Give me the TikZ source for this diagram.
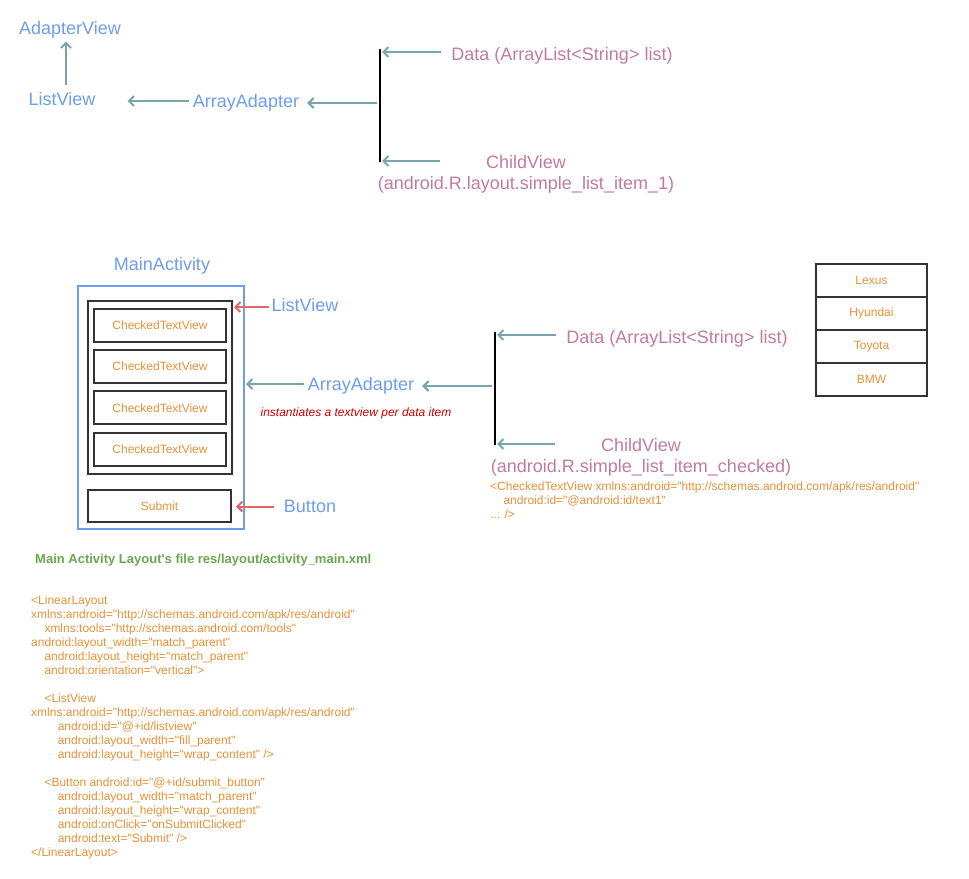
\documentclass[tikz,border=0pt]{standalone}
\usepackage{fontspec}
\setmainfont{Liberation Sans}[Ligatures=TeXOff]
\usetikzlibrary{arrows.meta, positioning}

\definecolor{lblblue}{HTML}{6D9EEB}
\definecolor{lblpink}{HTML}{C27BA0}
\definecolor{arrteal}{HTML}{76A5AF}
\definecolor{arrred}{HTML}{E06666}
\definecolor{codeorange}{HTML}{E69138}
\definecolor{titlegreen}{HTML}{6AA84F}
\definecolor{notered}{HTML}{CC0000}
\definecolor{boxgray}{HTML}{333333}

\newcommand{\codeindent}{\hspace*{13.3pt}}

\tikzset{
  biglbl/.style={inner sep=0pt, font=\fontsize{18}{21}\selectfont},
  bluelbl/.style={biglbl, text=lblblue},
  pinklbl/.style={biglbl, text=lblpink, align=center},
  smalltxt/.style={inner sep=0pt, font=\fontsize{12}{14}\selectfont, text=codeorange},
  viewbox/.style={draw=boxgray, line width=2pt, minimum width=132pt, minimum height=33pt, smalltxt},
  rowbox/.style={draw=boxgray, line width=2pt, minimum width=111pt, minimum height=33pt, smalltxt},
  tealarr/.style={draw=arrteal, line width=2pt, -{Straight Barb[length=5pt,width=10pt]}},
  redarr/.style={draw=arrred, line width=2pt, -{Straight Barb[length=5pt,width=10pt]}},
  bracketbar/.style={draw=black, line width=2pt},
}

\begin{document}
\begin{tikzpicture}[x=1pt, y=-1pt]
\useasboundingbox (0,0) rectangle (969,878);

% Top: class hierarchy and adapter inputs
\node[bluelbl] (adapterview) at (70,29.5) {AdapterView};
\node[bluelbl] (listview) at (62,99) {ListView};
\node[bluelbl] (adapter) at (246,103) {ArrayAdapter};
\node[pinklbl] (data) at (562,56) {Data (ArrayList<String> list)};
\node[pinklbl] (child) at (526,174) {ChildView\\(android.R.layout.simple\_list\_item\_1)};

\coordinate (bartop) at (380,49);
\coordinate (barbot) at (380,162);
\coordinate (barmid) at (377,103);
\coordinate (childtail) at (440,161);
\draw[bracketbar] (bartop) -- (barbot);

\draw[tealarr, shorten <=7pt, shorten >=3.5pt] ([xshift=4pt]listview.north) -- ([xshift=-4pt]adapterview.south);
\draw[tealarr, shorten <=4pt, shorten >=32pt] ([yshift=2pt]adapter.west) -- ([yshift=2pt]adapter.west -| listview.east);
\draw[tealarr, shorten >=8pt] (barmid) -- (barmid -| adapter.east);
\draw[tealarr, shorten <=10pt, shorten >=2pt] ([yshift=4pt]data.west) -- ([yshift=4pt]data.west -| bartop);
\draw[tealarr, shorten >=2pt] (childtail) -- (childtail -| bartop);

% Middle: activity layout
\node[bluelbl] (mainact) at (162,266) {MainActivity};
\node[draw=lblblue, line width=2pt, minimum width=166pt, minimum height=243pt] (activity) at (161,407.5) {};
\node[draw=boxgray, line width=2pt, minimum width=144pt, minimum height=173pt] (listbox) at (160,387.5) {};
\foreach \i in {1,...,4}
  \node[viewbox] (ctv\i) at (160,{325.5+(\i-1)*41.2}) {CheckedTextView};
\node[viewbox, minimum width=143pt, minimum height=32pt] (submit) at (159.5,506) {Submit};

\node[bluelbl] (lvlabel) at (305,305) {ListView};
\node[bluelbl] (adapter2) at (361,386) {ArrayAdapter};
\node[inner sep=0pt, font=\fontsize{12}{14}\selectfont\itshape, text=notered] (note) at (356,413) {instantiates a textview per data item};
\node[bluelbl] (btnlabel) at (310,506.5) {Button};

\draw[redarr, shorten <=2pt, shorten >=1pt] ([yshift=-2pt]lvlabel.west) -- ([yshift=-2pt]lvlabel.west -| listbox.east);
\draw[tealarr, shorten <=4pt, shorten >=1pt] ([yshift=2pt]adapter2.west) -- ([yshift=2pt]adapter2.west -| activity.east);
\draw[redarr, shorten <=10pt, shorten >=4pt] (btnlabel.west) -- (btnlabel.west -| submit.east);

% Middle right: adapter inputs
\node[pinklbl] (data2) at (677,338.5) {Data (ArrayList<String> list)};
\node[pinklbl] (child2) at (641,457) {ChildView\\(android.R.simple\_list\_item\_checked)};
\node[smalltxt, anchor=north west, align=left] (childxml) at (490,482)
  {<CheckedTextView xmlns:android="http://schemas.android.com/apk/res/android"\\
   \codeindent android:id="@android:id/text1"\\
   ... />};

\coordinate (bar2top) at (495,332);
\coordinate (bar2bot) at (495,445);
\coordinate (bar2mid) at (492,386);
\coordinate (child2tail) at (555,444);
\draw[bracketbar] (bar2top) -- (bar2bot);

\draw[tealarr, shorten >=8pt] (bar2mid) -- (bar2mid -| adapter2.east);
\draw[tealarr, shorten <=10pt, shorten >=2pt] ([yshift=3.5pt]data2.west) -- ([yshift=3.5pt]data2.west -| bar2top);
\draw[tealarr, shorten >=2pt] (child2tail) -- (child2tail -| bar2top);

% Data items
\foreach \car [count=\i] in {Lexus,Hyundai,Toyota,BMW}
  \node[rowbox] (row\i) at (871.5,{280.5+(\i-1)*33}) {\car};

% Bottom: layout file
\node[inner sep=0pt, anchor=west, font=\fontsize{13}{15}\selectfont\bfseries, text=titlegreen] (xmltitle) at (35,560) {Main Activity Layout's file res/layout/activity\_main.xml};
\node[smalltxt, anchor=north west, align=left] (mainxml) at (31,596)
  {<LinearLayout\\
   xmlns:android="http://schemas.android.com/apk/res/android"\\
   \codeindent xmlns:tools="http://schemas.android.com/tools"\\
   android:layout\_width="match\_parent"\\
   \codeindent android:layout\_height="match\_parent"\\
   \codeindent android:orientation="vertical">\\
   \mbox{}\\
   \codeindent <ListView\\
   xmlns:android="http://schemas.android.com/apk/res/android"\\
   \codeindent\codeindent android:id="@+id/listview"\\
   \codeindent\codeindent android:layout\_width="fill\_parent"\\
   \codeindent\codeindent android:layout\_height="wrap\_content" />\\
   \mbox{}\\
   \codeindent <Button android:id="@+id/submit\_button"\\
   \codeindent\codeindent android:layout\_width="match\_parent"\\
   \codeindent\codeindent android:layout\_height="wrap\_content"\\
   \codeindent\codeindent android:onClick="onSubmitClicked"\\
   \codeindent\codeindent android:text="Submit" />\\
   </LinearLayout>};
\end{tikzpicture}
\end{document}
